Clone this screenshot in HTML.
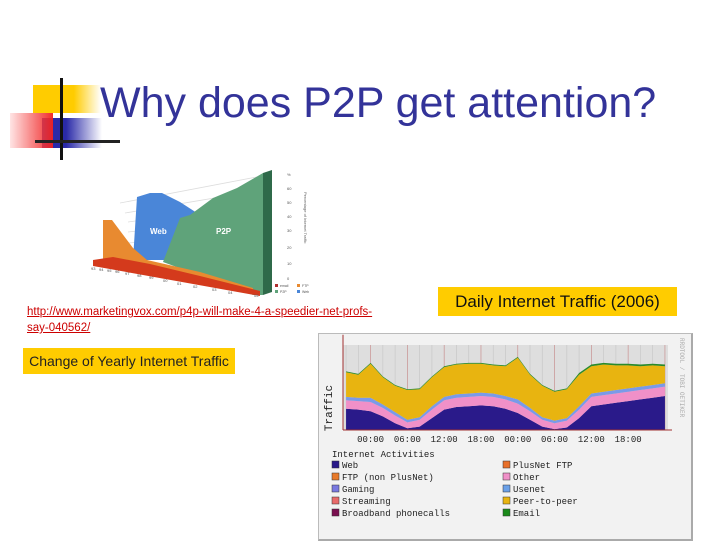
<!DOCTYPE html>
<html><head><meta charset="utf-8">
<style>
body{margin:0;width:720px;height:540px;background:#fff;position:relative;overflow:hidden;font-family:"Liberation Sans",sans-serif}
.abs{position:absolute}
</style></head>
<body>
<div class="abs" style="left:0;top:0;width:130px;height:170px">
  <div class="abs" style="left:33px;top:85px;width:68px;height:28px;background:linear-gradient(to right,#ffcc00 60%,rgba(255,204,0,0))"></div>
  <div class="abs" style="left:42px;top:118px;width:60px;height:30px;background:linear-gradient(to right,#2a2aa8 40%,rgba(42,42,168,0))"></div>
  <div class="abs" style="left:10px;top:113px;width:43px;height:35px;background:linear-gradient(to left,#f02020,rgba(255,200,200,0.5));opacity:.95"></div>
  <div class="abs" style="left:60px;top:78px;width:3px;height:82px;background:#111"></div>
  <div class="abs" style="left:35px;top:140px;width:85px;height:3px;background:#222"></div>
</div>
<div class="abs" style="left:100px;top:79px;font-size:43px;color:#333399;white-space:nowrap">Why does P2P get attention?</div>

<svg class="abs" style="left:88px;top:168px" width="232" height="132" viewBox="88 168 232 132">
  <g stroke="#ddd" stroke-width="0.8">
    <line x1="120" y1="203" x2="262" y2="176"/><line x1="125" y1="213" x2="262" y2="190"/>
    <line x1="128" y1="222" x2="262" y2="204"/><line x1="128" y1="232" x2="262" y2="218"/>
    <line x1="128" y1="243" x2="262" y2="233"/><line x1="128" y1="253" x2="262" y2="248"/>
  </g>
  <polygon points="263,173 272,170 272,292 263,295" fill="#2f6a4a"/>
  <polygon points="133,260 137,197 150,193 162,193 180,202 197,213 182,226 165,260" fill="#4a86d8"/>
  <polygon points="163,262 180,218 190,215 213,198 237,188 263,173 263,295 253,295" fill="#5fa37a"/>
  <polygon points="103,220 112,220 133,248 147,260 200,272 253,288 253,293 103,262" fill="#e88a30"/>
  <polygon points="93,260 113,257 150,264 200,276 260,291 260,296 93,266" fill="#d43a1c"/>
  <text x="150" y="234" font-size="8" font-weight="bold" fill="#fff">Web</text>
  <text x="216" y="234" font-size="8" font-weight="bold" fill="#fff">P2P</text>
  <g font-size="4" fill="#555">
    <text x="287" y="176">%</text><text x="287" y="190">60</text><text x="287" y="204">50</text>
    <text x="287" y="218">40</text><text x="287" y="232">30</text><text x="287" y="249">20</text>
    <text x="287" y="265">10</text><text x="287" y="280">0</text>
  </g>
  <text transform="translate(304,192) rotate(90)" font-size="4" fill="#666">Percentage of Internet Traffic</text>
  <g font-size="4" fill="#555">
    <text x="91" y="270">93</text><text x="99" y="271">94</text><text x="107" y="272">95</text><text x="115" y="273">96</text>
    <text x="125" y="275">97</text><text x="137" y="277">98</text><text x="149" y="279">99</text><text x="163" y="282">00</text>
    <text x="177" y="285">01</text><text x="193" y="288">02</text><text x="212" y="291">03</text><text x="228" y="294">04</text><text x="254" y="297">05</text>
  </g>
  <g font-size="3.5" fill="#555">
    <rect x="275" y="284" width="3" height="3" fill="#b03030"/><text x="280" y="287">email</text>
    <rect x="297" y="284" width="3" height="3" fill="#e88a30"/><text x="302" y="287">FTP</text>
    <rect x="275" y="290" width="3" height="3" fill="#5fa37a"/><text x="280" y="293">P2P</text>
    <rect x="297" y="290" width="3" height="3" fill="#4a86d8"/><text x="302" y="293">Web</text>
  </g>
</svg>

<a class="abs" style="left:27px;top:304px;width:350px;font-size:11.5px;line-height:16px;color:#cc0000;text-decoration:underline">http://www.marketingvox.com/p4p-will-make-4-a-speedier-net-profs-say-040562/</a>
<div class="abs" style="left:23px;top:348px;width:212px;height:26px;background:#ffcc00;font-size:14px;line-height:26px;color:#222;text-align:center;white-space:nowrap">Change of Yearly Internet Traffic</div>
<div class="abs" style="left:438px;top:287px;width:239px;height:29px;background:#ffcc00;font-size:17px;line-height:29px;color:#111;text-align:center;white-space:nowrap">Daily Internet Traffic (2006)</div>

<div class="abs" style="left:318px;top:333px;width:372px;height:205px;background:#f2f2f2;border:1px solid #bbb;border-right:2px solid #aaa;border-bottom:2px solid #aaa"></div>
<svg class="abs" id="daily" style="left:318px;top:330px" width="380" height="210"></svg>

<script>
const hours=[-4,-2,0,2,4,6,8,10,12,14,16,18,20,22,24,26,28,30,32,34,36,38,40,42,44,46,48];
const webVals=[25,24,22,16,8,2,4,14,24,27,28,29,28,25,20,12,4,1,3,14,28,30,32,34,36,38,40];
const otherVals=[10,10,11,10,9,7,8,10,11,11,11,11,11,11,11,10,8,7,8,10,11,11,11,11,11,11,11];
const usenetVals=[4,4,5,4,4,3,3,4,4,4,4,4,4,4,5,4,3,3,3,4,4,4,4,4,4,4,4];
const totalVals=[68,65,78,62,52,47,48,62,74,77,78,78,76,75,85,65,52,45,48,65,75,77,76,76,75,76,75];
const emailVals=[1,1,1,1,1,1,1,1,1,1,1,1,1,1,1,1,1,1,1,2,2,2,2,2,2,2,2];
const tickLabels=["00:00","06:00","12:00","18:00","00:00","06:00","12:00","18:00"];
const tickHours=[0,6,12,18,24,30,36,42];
const legendNames=["Web","PlusNet FTP","FTP (non PlusNet)","Other","Gaming","Usenet","Streaming","Peer-to-peer","Broadband phonecalls","Email"];
const legendColors=["#2a1a8a","#e8702a","#e87a2a","#f090c8","#7878e0","#6aa0e8","#e86a6a","#e8b410","#7a1050","#1a8a1a"];

const svg=document.getElementById('daily');
const NS='http://www.w3.org/2000/svg';
const X0=343,X1=668,Y0=430,Y1=345;
const hMin=-4.5,hMax=48.5;
const xs=h=>X0+(h-hMin)/(hMax-hMin)*(X1-X0)-318;
const ys=v=>Y0-v/100*(Y0-Y1)-330;
function mk(tag,attrs){const e=document.createElementNS(NS,tag);for(const k in attrs)e.setAttribute(k,attrs[k]);svg.appendChild(e);return e;}
const bg=mk('rect',{x:X0-318,y:Y1-330,width:X1-X0,height:Y0-Y1,fill:'#dedede'});


for(let h=-4;h<=48;h+=2){const g=mk('line',{x1:xs(h),x2:xs(h),y1:ys(100),y2:ys(0),stroke:(h%6===0)?'#c89090':'#c8c8c8','stroke-width':0.7});

}
function band(lo,hi,color,name){
  let p=hours.map((h,i)=>xs(h)+','+ys(hi[i])).join(' ');
  p+=' '+hours.slice().reverse().map((h,j)=>{const i=hours.length-1-j;return xs(h)+','+ys(lo[i]);}).join(' ');
  const e=mk('polygon',{points:p,fill:color});
  
  
}
const zero=hours.map(()=>0);
const c1=webVals;
const c2=webVals.map((v,i)=>v+otherVals[i]);
const c3=c2.map((v,i)=>v+usenetVals[i]);
const c5=totalVals.map((v,i)=>v+emailVals[i]);
band(zero,c1,'#2a1a8a','web-band');
band(c1,c2,'#f090c8','other-band');
band(c2,c3,'#7a9ae8','usenet-band');
band(c3,totalVals,'#e8b410','p2p-band');
band(totalVals,c5,'#2a8a2a','email-band');
const ax=mk('line',{x1:xs(hMin),x2:xs(hMin),y1:ys(0),y2:ys(112),stroke:'#a03030','stroke-width':1});


const ax2=mk('line',{x1:xs(hMin),x2:xs(hMax)+4,y1:ys(0),y2:ys(0),stroke:'#a03030','stroke-width':1});


tickHours.forEach((h,i)=>{const t=mk('text',{x:xs(h),y:112,'font-size':9,'font-family':'Liberation Mono, monospace','text-anchor':'middle',fill:'#222'});t.textContent=tickLabels[i];

});
const yt=mk('text',{transform:'translate(14,78) rotate(-90)','font-size':11,'font-family':'Liberation Mono, monospace',fill:'#222','text-anchor':'middle'});yt.textContent='Traffic';


const side=mk('text',{transform:'translate(362,8) rotate(90)','font-size':6,'font-family':'Liberation Mono, monospace',fill:'#aaa'});side.textContent='RRDTOOL / TOBI OETIKER';


const lt=mk('text',{x:14,y:127,'font-size':9,'font-family':'Liberation Mono, monospace',fill:'#222'});lt.textContent='Internet Activities';


legendNames.forEach((n,i)=>{const col=i%2,row=Math.floor(i/2);const x=col?185:14,y=131+row*12;
const r=mk('rect',{x:x,y:y,width:7,height:7,fill:legendColors[i],stroke:'#333','stroke-width':0.5});


const t=mk('text',{x:x+10,y:y+7,'font-size':9,'font-family':'Liberation Mono, monospace',fill:'#222'});t.textContent=n;

});
</script>
</body></html>
